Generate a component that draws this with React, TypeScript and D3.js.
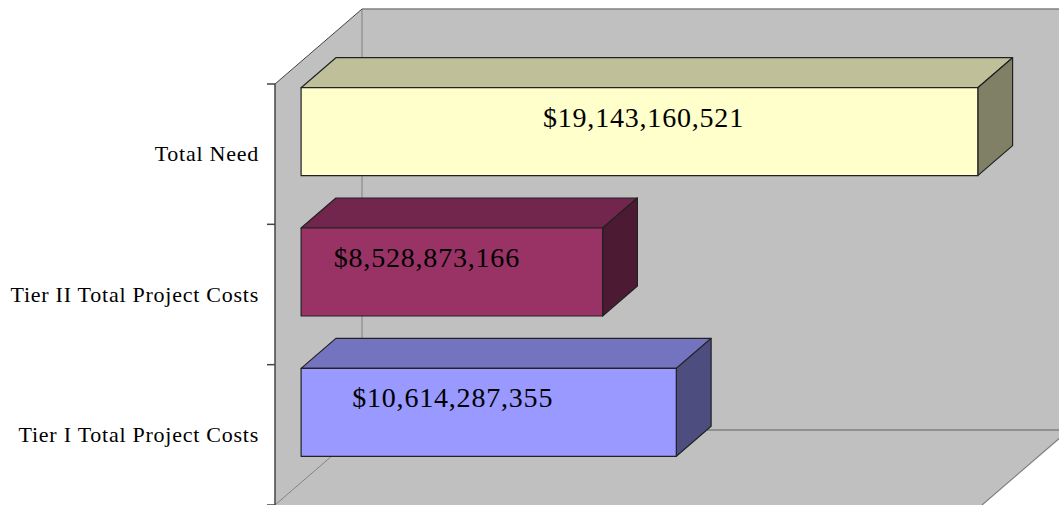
import React from "react";
import * as d3 from "d3";

// categories top to bottom, as they appear on the chart
const categories = ["Total Need", "Tier II Total Project Costs", "Tier I Total Project Costs"];
const values = [19143160521, 8528873166, 10614287355];
const valueLabels = ["$19,143,160,521", "$8,528,873,166", "$10,614,287,355"];
const frontColors = ["#FFFFCC", "#993366", "#9999FF"];
const valueMax = 20e9;

// label placement tweaks (px, relative to the centre of each bar's front face)
const labelNudge = [4, -25, -36];

const width = 1059;
const height = 505;
// front plane of the 3D box
const frame = { left: 275, right: 982, top: 84, bottom: 505 };
const depth = { dx: 87, dy: -75 };
const barZ = [0.3, 0.7];

const shade = (c: string, k: number) => {
  const rgb = d3.rgb(c);
  return d3.rgb(rgb.r * k, rgb.g * k, rgb.b * k).formatHex();
};

const App = () => {
  const x = d3.scaleLinear().domain([0, valueMax]).range([frame.left, frame.right]);
  const y = d3
    .scaleBand()
    .domain(categories)
    .range([frame.top, frame.bottom])
    .paddingInner(0.373)
    .paddingOuter(0.1865);

  const p = (px: number, py: number, z: number) => [px + z * depth.dx, py + z * depth.dy];
  const poly = (pts: number[][]) => pts.map((q) => q.join(",")).join(" ");

  const x0 = x(0);
  const x1 = x(valueMax);
  const wallColor = "#C0C0C0";
  const edge = "#808080";

  const step = (frame.bottom - frame.top) / categories.length;
  const ticks = d3.range(categories.length + 1).map((i) => frame.top + i * step);

  return (
    <svg
      width={width}
      height={height}
      style={{ position: "absolute", left: 0, top: 0, background: "#fff" }}
    >
      {/* back wall */}
      <polygon
        points={poly([p(x0, frame.top, 1), p(x1 + 200, frame.top, 1), p(x1 + 200, frame.bottom, 1), p(x0, frame.bottom, 1)])}
        fill={wallColor}
      />
      {/* left wall */}
      <polygon
        points={poly([p(x0, frame.top, 0), p(x0, frame.top, 1), p(x0, frame.bottom, 1), p(x0, frame.bottom, 0)])}
        fill={wallColor}
      />
      {/* floor */}
      <polygon
        points={poly([p(x0, frame.bottom, 0), p(x0, frame.bottom, 1), p(x1, frame.bottom, 1), p(x1, frame.bottom, 0)])}
        fill={wallColor}
      />
      {/* box edges */}
      <line x1={p(x0, frame.top, 1)[0]} y1={p(x0, frame.top, 1)[1]} x2={width} y2={p(x0, frame.top, 1)[1]} stroke={edge} strokeWidth={1.5} />
      <line x1={p(x0, frame.top, 1)[0]} y1={p(x0, frame.top, 1)[1]} x2={p(x0, frame.bottom, 1)[0]} y2={p(x0, frame.bottom, 1)[1]} stroke={edge} strokeWidth={1} />
      <line x1={p(x0, frame.bottom, 1)[0]} y1={p(x0, frame.bottom, 1)[1]} x2={width} y2={p(x0, frame.bottom, 1)[1]} stroke={edge} strokeWidth={1.5} />
      <line x1={p(x0, frame.bottom, 0)[0]} y1={p(x0, frame.bottom, 0)[1]} x2={p(x0, frame.bottom, 1)[0]} y2={p(x0, frame.bottom, 1)[1]} stroke={edge} strokeWidth={1} />
      <line x1={p(x1, frame.bottom, 0)[0]} y1={p(x1, frame.bottom, 0)[1]} x2={p(x1, frame.bottom, 1)[0]} y2={p(x1, frame.bottom, 1)[1]} stroke={edge} strokeWidth={1.2} />
      <line x1={p(x0, frame.top, 0)[0]} y1={p(x0, frame.top, 0)[1]} x2={p(x0, frame.top, 1)[0]} y2={p(x0, frame.top, 1)[1]} stroke="#444" strokeWidth={1} />

      {/* axis line and ticks */}
      <line x1={x0} y1={frame.top} x2={x0} y2={frame.bottom} stroke="#444" strokeWidth={1.5} />
      {ticks.map((t, i) => (
        <line key={i} x1={x0 - 8} y1={t} x2={x0} y2={t} stroke="#444" strokeWidth={1.5} />
      ))}

      {/* bars */}
      {categories.map((c, i) => {
        const top = y(c) as number;
        const bot = top + y.bandwidth();
        const xe = x(values[i]);
        const [za, zb] = barZ;
        const col = frontColors[i];
        const front = [p(x0, top, za), p(xe, top, za), p(xe, bot, za), p(x0, bot, za)];
        const topFace = [p(x0, top, za), p(x0, top, zb), p(xe, top, zb), p(xe, top, za)];
        const side = [p(xe, top, za), p(xe, top, zb), p(xe, bot, zb), p(xe, bot, za)];
        const ft = p(x0, top, za);
        const cx = (p(x0, top, za)[0] + p(xe, top, za)[0]) / 2 + labelNudge[i];
        return (
          <g key={c} stroke="#222" strokeWidth={1.2} strokeLinejoin="round">
            <polygon points={poly(topFace)} fill={shade(col, 0.75)} />
            <polygon points={poly(side)} fill={shade(col, 0.5)} />
            <polygon points={poly(front)} fill={col} />
            <text
              x={cx}
              y={ft[1] + 39}
              textAnchor="middle"
              stroke="none"
              fill="#000"
              fontFamily="'Liberation Serif', 'Times New Roman', serif"
              fontSize={28}
              letterSpacing={0.8}
            >
              {valueLabels[i]}
            </text>
          </g>
        );
      })}

      {/* category labels */}
      {categories.map((c) => (
        <text
          key={c}
          x={259}
          y={(y(c) as number) + y.bandwidth() / 2 + 7}
          textAnchor="end"
          fill="#000"
          fontFamily="'Liberation Serif', 'Times New Roman', serif"
          fontSize={22}
          letterSpacing={0.75}
        >
          {c}
        </text>
      ))}
    </svg>
  );
};

export default App;
